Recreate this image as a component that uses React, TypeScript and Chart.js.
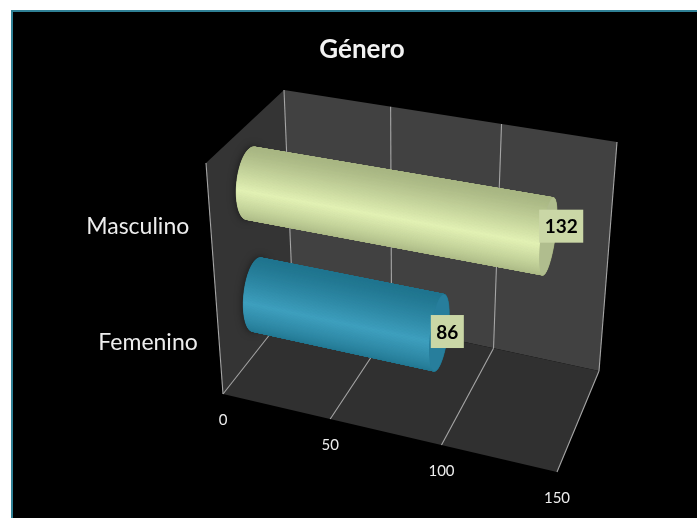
import React, { useEffect, useRef } from "react";
import { Chart, registerables } from "chart.js";

Chart.register(...registerables);

const categories = ["Masculino", "Femenino"];
const counts = [132, 86];
const xTicks = [0, 50, 100, 150];
const barColors = ["#E2F1B4", "#3E9FBE"];
const edgeColors = ["#A8B683", "#20758F"];
const capColors = ["#B0BD8E", "#277E9C"];
const chartTitle = "Género";

type Pt = [number, number];

// unit square -> quad: corners (0,0) (1,0) (1,1) (0,1)
function homography(p0: Pt, p1: Pt, p2: Pt, p3: Pt) {
  const dx1 = p1[0] - p2[0], dx2 = p3[0] - p2[0], sx = p0[0] - p1[0] + p2[0] - p3[0];
  const dy1 = p1[1] - p2[1], dy2 = p3[1] - p2[1], sy = p0[1] - p1[1] + p2[1] - p3[1];
  const den = dx1 * dy2 - dx2 * dy1;
  const g = (sx * dy2 - dx2 * sy) / den;
  const h = (dx1 * sy - sx * dy1) / den;
  const a = p1[0] - p0[0] + g * p1[0], b = p3[0] - p0[0] + h * p3[0], c = p0[0];
  const d = p1[1] - p0[1] + g * p1[1], e = p3[1] - p0[1] + h * p3[1], f = p0[1];
  return (u: number, v: number): Pt => {
    const q = g * u + h * v + 1;
    return [(a * u + b * v + c) / q, (d * u + e * v + f) / q];
  };
}

const floor = homography([223, 394], [557, 472], [599, 371], [293, 305]);
const ceiling = homography([206, 163], [572, 226], [617, 142], [284, 90]);

// u along the value axis, v depth (0 front, 1 back), w height
function project(u: number, v: number, w: number): Pt {
  const a = floor(u, v), b = ceiling(u, v);
  return [a[0] + (b[0] - a[0]) * w, a[1] + (b[1] - a[1]) * w];
}

function hexMix(c1: string, c2: string, t: number) {
  const p = (s: string, i: number) => parseInt(s.slice(i, i + 2), 16);
  const m = (i: number) => Math.round(p(c1, i) + (p(c2, i) - p(c1, i)) * t);
  return `rgb(${m(1)},${m(3)},${m(5)})`;
}

function poly(ctx: CanvasRenderingContext2D, pts: Pt[], fill: string) {
  ctx.beginPath();
  pts.forEach((p, i) => (i ? ctx.lineTo(p[0], p[1]) : ctx.moveTo(p[0], p[1])));
  ctx.closePath();
  ctx.fillStyle = fill;
  ctx.fill();
}

function line(ctx: CanvasRenderingContext2D, a: Pt, b: Pt) {
  ctx.beginPath();
  ctx.moveTo(a[0], a[1]);
  ctx.lineTo(b[0], b[1]);
  ctx.stroke();
}

const depthRadius = 0.18;
const viewAngle = (282 * Math.PI) / 180; // ring angle that faces the viewer
const barDrop = 0.012;

const scenePlugin = {
  id: "scene3d",
  beforeDraw(chart: any) {
    const ctx: CanvasRenderingContext2D = chart.ctx;
    ctx.save();
    ctx.fillStyle = "#ffffff";
    ctx.fillRect(0, 0, 697, 518);
    ctx.fillStyle = "#2F8095";
    ctx.fillRect(11, 10, 686, 508);
    ctx.fillStyle = "#000000";
    ctx.fillRect(13, 12, 684, 506);
    ctx.restore();
  },
  beforeDatasetsDraw(chart: any) {
    const ctx: CanvasRenderingContext2D = chart.ctx;
    const area = chart.chartArea;
    const xs = chart.scales.x;
    const toU = (px: number) => (px - area.left) / area.width;
    const toW = (py: number) => 1 - (py - area.top) / area.height;
    ctx.save();

    // walls and floor
    poly(ctx, [project(0, 1, 0), project(1, 1, 0), project(1, 1, 1), project(0, 1, 1)], "#414141");
    poly(ctx, [project(0, 0, 0), project(0, 1, 0), project(0, 1, 1), project(0, 0, 1)], "#343434");
    poly(ctx, [project(0, 0, 0), project(1, 0, 0), project(1, 1, 0), project(0, 1, 0)], "#303030");

    // grid
    ctx.strokeStyle = "#A6A6A6";
    ctx.lineWidth = 1.1;
    line(ctx, project(0, 0, 0), project(0, 0, 1));
    xTicks.forEach((t) => {
      const u = toU(xs.getPixelForValue(t));
      line(ctx, project(u, 0, 0), project(u, 1, 0));
      line(ctx, project(u, 1, 0), project(u, 1, 1));
    });

    // tick labels
    ctx.fillStyle = "#EDEDED";
    ctx.font = "15px Lato";
    ctx.textAlign = "center";
    ctx.textBaseline = "middle";
    xTicks.forEach((t) => {
      const p = project(toU(xs.getPixelForValue(t)), 0, 0);
      ctx.fillText(String(t), p[0], p[1] + 26);
    });

    const meta = chart.getDatasetMeta(0);
    const labelBoxes: { text: string; x: number; y: number }[] = [];

    meta.data.forEach((bar: any, i: number) => {
      const uEnd = toU(bar.x);
      const uStart = toU(bar.base);
      const wAxis = toW(bar.y);
      const wMid = wAxis - barDrop;
      const wRad = bar.height / area.height / 2;

      // category label
      const front = project(0, 0, wAxis);
      ctx.fillStyle = "#EDEDED";
      ctx.font = "23px Lato";
      ctx.textAlign = "right";
      ctx.fillText(categories[i], front[0] - 21, front[1] + 6);

      const ring = (u: number, t: number): Pt =>
        project(u, 0.5 + depthRadius * Math.sin(t), wMid + wRad * Math.cos(t));

      // soft shadow on the wall behind the near end
      ctx.save();
      ctx.shadowColor = "rgba(0,0,0,0.6)";
      ctx.shadowBlur = 9;
      const shadowPts: Pt[] = [];
      for (let k = 0; k < 48; k++) shadowPts.push(ring(uStart, (k / 48) * Math.PI * 2));
      poly(ctx, shadowPts, edgeColors[i]);
      ctx.restore();

      const N = 160;
      const strips: { t0: number; t1: number; facing: number }[] = [];
      for (let k = 0; k < N; k++) {
        const t0 = (k / N) * Math.PI * 2;
        const t1 = ((k + 1) / N) * Math.PI * 2;
        strips.push({ t0, t1, facing: Math.cos((t0 + t1) / 2 - viewAngle) });
      }
      // far side first, the side facing the viewer last
      strips.sort((a, b) => a.facing - b.facing);
      strips.forEach((s) => {
        const k = Math.max(0, s.facing);
        // brightness falls off evenly across the visible width
        const col = hexMix(edgeColors[i], barColors[i], 1 - Math.sqrt(1 - k * k));
        const quad: Pt[] = [ring(uStart, s.t0), ring(uEnd, s.t0), ring(uEnd, s.t1), ring(uStart, s.t1)];
        poly(ctx, quad, col);
        ctx.strokeStyle = col;
        ctx.lineWidth = 0.8;
        ctx.stroke();
      });

      // end cap
      const cap: Pt[] = [];
      for (let k = 0; k < 64; k++) cap.push(ring(uEnd, (k / 64) * Math.PI * 2));
      poly(ctx, cap, capColors[i]);

      const end = project(uEnd, 0.5, wMid);
      const f = (wAxis - 0.25) / 0.5;
      labelBoxes.push({
        text: String(chart.data.datasets[0].data[i]),
        x: end[0] + 8 + 5 * f,
        y: end[1] - 1 - 9 * f,
      });
    });

    // value labels
    ctx.font = "bold 19px Lato";
    ctx.textAlign = "center";
    labelBoxes.forEach((b) => {
      const w = ctx.measureText(b.text).width + 11;
      ctx.fillStyle = "#CAD7A6";
      ctx.fillRect(b.x - w / 2, b.y - 16.5, w, 33);
      ctx.fillStyle = "#000000";
      ctx.fillText(b.text, b.x, b.y + 1);
    });

    ctx.restore();
    return false;
  },
};

export default function App() {
  const ref = useRef<HTMLCanvasElement>(null);
  useEffect(() => {
    if (!ref.current) return;
    const chart = new Chart(ref.current, {
      type: "bar",
      data: {
        labels: categories,
        datasets: [
          {
            label: chartTitle,
            data: counts,
            backgroundColor: barColors,
            barPercentage: 0.6,
            categoryPercentage: 1,
          },
        ],
      },
      options: {
        indexAxis: "y",
        responsive: false,
        animation: false,
        devicePixelRatio: 1,
        layout: { padding: { left: 27, top: 34, right: 0, bottom: 0 } },
        scales: {
          x: { display: false, min: 0, max: 150, ticks: { stepSize: 50 } },
          y: { display: false },
        },
        plugins: {
          legend: { display: false },
          tooltip: { enabled: false },
          title: {
            display: true,
            text: chartTitle,
            color: "#F2F2F2",
            font: { family: "Lato", size: 26, weight: "bold" },
            padding: { top: 0, bottom: 10 },
          },
        },
      },
      plugins: [scenePlugin],
    } as any);
    return () => chart.destroy();
  }, []);
  return (
    <canvas
      ref={ref}
      width={697}
      height={518}
      style={{ position: "absolute", left: 0, top: 0, width: 697, height: 518, display: "block" }}
    />
  );
}
